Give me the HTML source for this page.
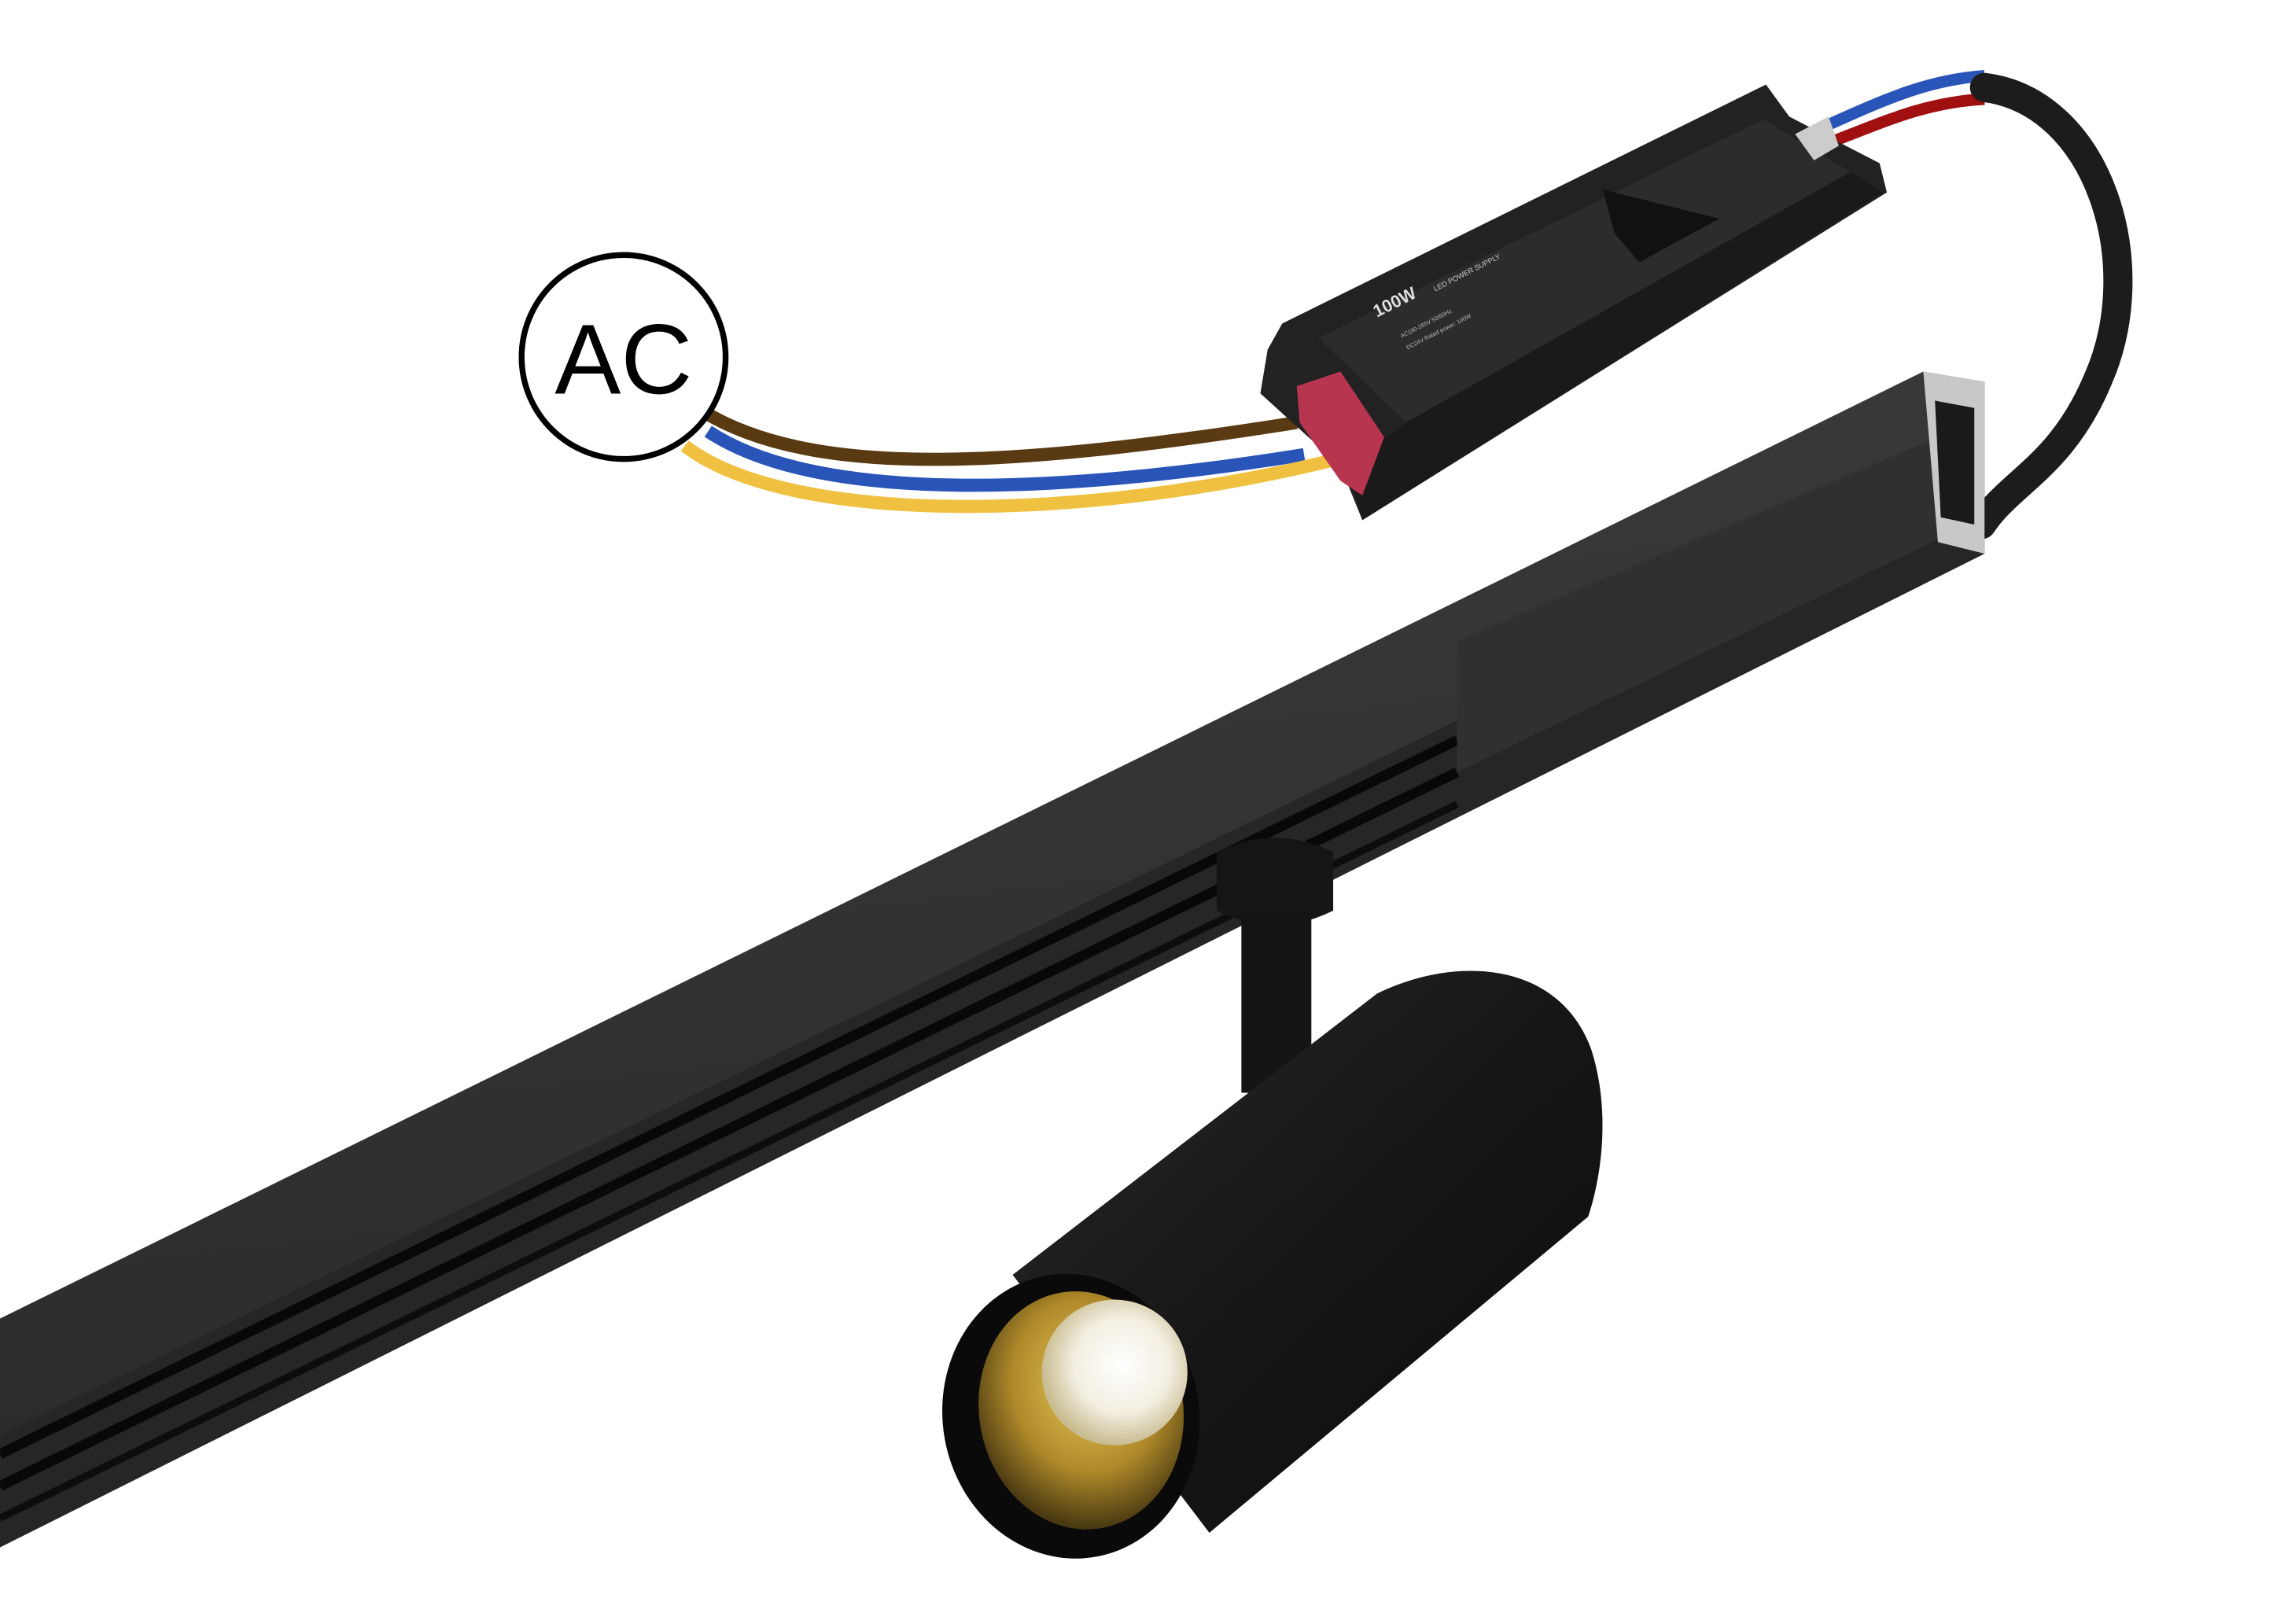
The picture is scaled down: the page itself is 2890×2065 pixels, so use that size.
<!DOCTYPE html>
<html><head><meta charset="utf-8"><style>
html,body{margin:0;padding:0;background:#fff;}
svg{display:block}
</style></head><body>
<svg width="2890" height="2065" viewBox="0 0 1560 1114.6" xmlns="http://www.w3.org/2000/svg">
<defs>
<linearGradient id="trk" x1="0" y1="0" x2="0.2" y2="1">
<stop offset="0" stop-color="#3c3c3c"/><stop offset="1" stop-color="#2a2a2a"/></linearGradient>
<linearGradient id="cyl" x1="0" y1="0" x2="1" y2="1">
<stop offset="0" stop-color="#2a2a2a"/><stop offset="0.5" stop-color="#161616"/><stop offset="1" stop-color="#0c0c0c"/></linearGradient>
<radialGradient id="cup" cx="0.55" cy="0.4" r="0.6">
<stop offset="0" stop-color="#e8c85a"/><stop offset="0.6" stop-color="#b08a2a"/><stop offset="1" stop-color="#4a3a12"/></radialGradient>
<radialGradient id="led" cx="0.55" cy="0.45" r="0.55">
<stop offset="0" stop-color="#ffffff"/><stop offset="0.6" stop-color="#f2eee0"/><stop offset="1" stop-color="#c8bc90"/></radialGradient>
<clipPath id="tc"><polygon points="0,905 1320,255 1362,262 1362,380 0,1062"/></clipPath>
</defs>

<path d="M482,282 C560,330 700,320 890,290" stroke="#5a3a12" stroke-width="9" fill="none"/>
<path d="M486,296 C560,345 720,340 895,312" stroke="#2a55b8" stroke-width="9" fill="none"/>
<path d="M470,306 C540,360 740,360 922,314" stroke="#f0c040" stroke-width="9" fill="none"/>

<circle cx="428" cy="245" r="70" fill="#fff" stroke="#000" stroke-width="4"/>
<text x="428" y="270" font-family="Liberation Sans, sans-serif" font-size="68" text-anchor="middle" fill="#000">AC</text>

<path d="M1245,90 C1290,70 1320,55 1362,52" stroke="#2a55b8" stroke-width="8" fill="none"/>
<path d="M1250,100 C1290,85 1320,70 1362,68" stroke="#a01010" stroke-width="8" fill="none"/>
<path d="M1362,60 C1440,70 1475,180 1440,260 C1415,320 1380,330 1360,360" stroke="#1c1c1c" stroke-width="20" fill="none" stroke-linecap="round"/>

<polygon points="880,222 1212,58 1228,80 1290,112 1295,132 935,357 920,320 865,270 870,240" fill="#222"/>
<polygon points="905,232 1210,82 1270,118 965,290" fill="#2c2c2c"/>
<polygon points="965,290 1270,118 1292,132 935,357 925,320" fill="#1a1a1a"/>
<polygon points="1100,130 1180,150 1125,180 1108,160" fill="#111"/>
<polygon points="890,265 920,255 950,300 935,340 920,330 892,290" fill="#b83550"/>
<polygon points="1232,92 1255,80 1262,100 1245,110" fill="#ccc"/>
<text transform="translate(945,218) rotate(-27)" font-family="Liberation Sans, sans-serif" font-size="12" font-weight="bold" fill="#ddd">100W</text>
<text transform="translate(985,200) rotate(-27)" font-family="Liberation Sans, sans-serif" font-size="5" fill="#ccc">LED POWER SUPPLY</text>
<text transform="translate(962,232) rotate(-27)" font-family="Liberation Sans, sans-serif" font-size="4" fill="#bbb">AC180-265V 50/60Hz</text>
<text transform="translate(966,240) rotate(-27)" font-family="Liberation Sans, sans-serif" font-size="4" fill="#bbb">DC24V Rated power: 100W</text>

<polygon points="0,905 1320,255 1362,262 1362,380 0,1062" fill="url(#trk)"/>
<g clip-path="url(#tc)">
<polygon points="0,985 1362,317 1362,400 0,1070" fill="#262626"/>
<path d="M0,998 L1000,508" stroke="#080808" stroke-width="7"/>
<path d="M0,1020 L1000,530" stroke="#080808" stroke-width="7"/>
<path d="M0,1042 L1000,552" stroke="#0d0d0d" stroke-width="5"/>
<polygon points="1000,440 1330,300 1330,370 1000,530" fill="#303030"/>
</g>
<polygon points="1320,255 1362,262 1362,380 1330,372" fill="#c8c8c8"/>
<polygon points="1328,275 1355,280 1355,360 1332,355" fill="#1a1a1a"/>

<path d="M835,585 Q875,565 915,585 L915,625 Q875,645 835,625 Z" fill="#151515"/>
<rect x="852" y="625" width="48" height="125" fill="#141414"/>
<path d="M695,875 L945,682 C1000,655 1070,660 1092,720 C1105,760 1100,805 1090,835 L830,1052 Z" fill="url(#cyl)"/>
<ellipse cx="735" cy="972" rx="88" ry="98" transform="rotate(-10 735 972)" fill="#0a0a0a"/>
<ellipse cx="742" cy="968" rx="70" ry="82" transform="rotate(-10 742 968)" fill="url(#cup)"/>
<circle cx="765" cy="942" r="50" fill="url(#led)"/>
</svg>
</body></html>
